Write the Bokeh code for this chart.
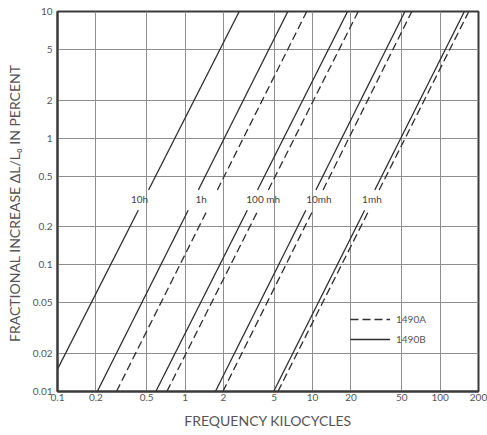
import numpy as np
from bokeh.plotting import figure
from bokeh.models import FixedTicker, Legend, LegendItem, ColumnDataSource
from bokeh.embed import file_html
from bokeh.resources import INLINE
from bokeh.core.properties import value

# ---------------- data ----------------
x_ticks = [0.1, 0.2, 0.5, 1, 2, 5, 10, 20, 50, 100, 200]
x_tick_labels = ["0.1", "0.2", "0.5", "1", "2", "5", "10", "20", "50", "100", "200"]
y_ticks = [0.01, 0.02, 0.05, 0.1, 0.2, 0.5, 1, 2, 5, 10]
y_tick_labels = ["0.01", "0.02", "0.05", "0.1", "0.2", "0.5", "1", "2", "5", "10"]

inductances = ["10 h", "1 h", "100 mh", "10 mh", "1 mh"]
label_text = ["10h", "1h", "100 mh", "10mh", "1mh"]
label_freq = [0.44, 1.34, 4.1, 11.2, 29.2]
label_pct = [0.33, 0.33, 0.33, 0.33, 0.33]

# 1490B (solid curves): end points (kc, percent)
b_start_freq = [0.1, 0.205, 0.59, 1.73, 4.95]
b_start_pct = [0.015, 0.01, 0.01, 0.01, 0.01]
b_end_freq = [2.66, 6.4, 18.8, 53.0, 155.0]
b_end_pct = [10, 10, 10, 10, 10]

# 1490A (dashed curves, 1 h .. 1 mh)
a_start_freq = [0.29, 0.72, 1.98, 5.35]
a_start_pct = [0.01, 0.01, 0.01, 0.01]
a_end_freq = [9.0, 22.8, 60.0, 168.0]
a_end_pct = [10, 10, 10, 10]

# curves are interrupted where the labels sit
gap_pct = (0.27, 0.39)

series_names = ["1490A", "1490B"]


def split_line(f0, y0, f1, y1):
    lf0, ly0, lf1, ly1 = np.log10([f0, y0, f1, y1])

    def f_at(y):
        return float(10 ** (lf0 + (np.log10(y) - ly0) * (lf1 - lf0) / (ly1 - ly0)))

    lo, hi = gap_pct
    return [[f0, f_at(lo)], [f_at(hi), f1]], [[y0, lo], [hi, y1]]


def build(sf, sp, ef, ep):
    xs, ys = [], []
    for f0, y0, f1, y1 in zip(sf, sp, ef, ep):
        sx, sy = split_line(f0, y0, f1, y1)
        xs += sx
        ys += sy
    return ColumnDataSource(dict(xs=xs, ys=ys))


src_b = build(b_start_freq, b_start_pct, b_end_freq, b_end_pct)
src_a = build(a_start_freq, a_start_pct, a_end_freq, a_end_pct)

# ---------------- figure ----------------
FONT = "Lato"
TXT = "#555555"
LINE = "#2e2e2e"

p = figure(width=487, height=435, x_axis_type="log", y_axis_type="log",
           x_range=(0.1, 200), y_range=(0.01, 10),
           output_backend="svg", toolbar_location=None,
           min_border_left=57, min_border_right=9,
           min_border_top=11, min_border_bottom=44)

p.background_fill_color = "white"
p.border_fill_color = "white"
p.outline_line_color = "#3a3a3a"
p.outline_line_width = 2

p.xaxis.ticker = FixedTicker(ticks=x_ticks)
p.yaxis.ticker = FixedTicker(ticks=y_ticks)
p.xaxis.major_label_overrides = {t: s for t, s in zip(x_ticks, x_tick_labels)}
p.yaxis.major_label_overrides = {t: s for t, s in zip(y_ticks, y_tick_labels)}

for ax in (p.xaxis, p.yaxis):
    ax.major_tick_in = 0
    ax.major_tick_out = 0
    ax.minor_tick_line_color = None
    ax.axis_line_color = "#3a3a3a"
    ax.axis_line_width = 2
    ax.major_label_text_font = FONT
    ax.major_label_text_font_size = "10px"
    ax.major_label_text_color = TXT
    ax.axis_label_text_font = FONT
    ax.axis_label_text_font_size = "14px"
    ax.axis_label_text_font_style = "normal"
    ax.axis_label_text_color = TXT

p.xaxis.axis_label = "FREQUENCY KILOCYCLES"
p.yaxis.axis_label = "FRACTIONAL INCREASE  ΔL/L₀ IN PERCENT"
p.xaxis.major_label_standoff = 2
p.xaxis.axis_label_standoff = 8
p.yaxis.major_label_standoff = 5
p.yaxis.axis_label_standoff = 7

p.xgrid.ticker = FixedTicker(ticks=x_ticks)
p.ygrid.ticker = FixedTicker(ticks=y_ticks)
for g in (p.xgrid, p.ygrid):
    g.grid_line_color = "#8e8e8e"
    g.grid_line_width = 1
    g.minor_grid_line_color = None

ra = p.multi_line("xs", "ys", source=src_a, line_color=LINE, line_width=1.3,
                  line_dash="8 4")
rb = p.multi_line("xs", "ys", source=src_b, line_color=LINE, line_width=1.3)

p.text(x=label_freq, y=label_pct, text=label_text, text_font=value(FONT),
       text_font_size="10px", text_color="#444444", text_align="center",
       text_baseline="middle")

legend = Legend(items=[LegendItem(label=series_names[0], renderers=[ra]),
                       LegendItem(label=series_names[1], renderers=[rb])],
                location=(293, 42), glyph_width=40, glyph_height=20,
                label_height=20, spacing=0, padding=0, margin=0,
                label_standoff=6, border_line_alpha=0, background_fill_alpha=0,
                label_text_font=FONT, label_text_font_size="10px",
                label_text_color=TXT)
p.add_layout(legend)

open("out.html", "w").write(file_html(p, INLINE))
